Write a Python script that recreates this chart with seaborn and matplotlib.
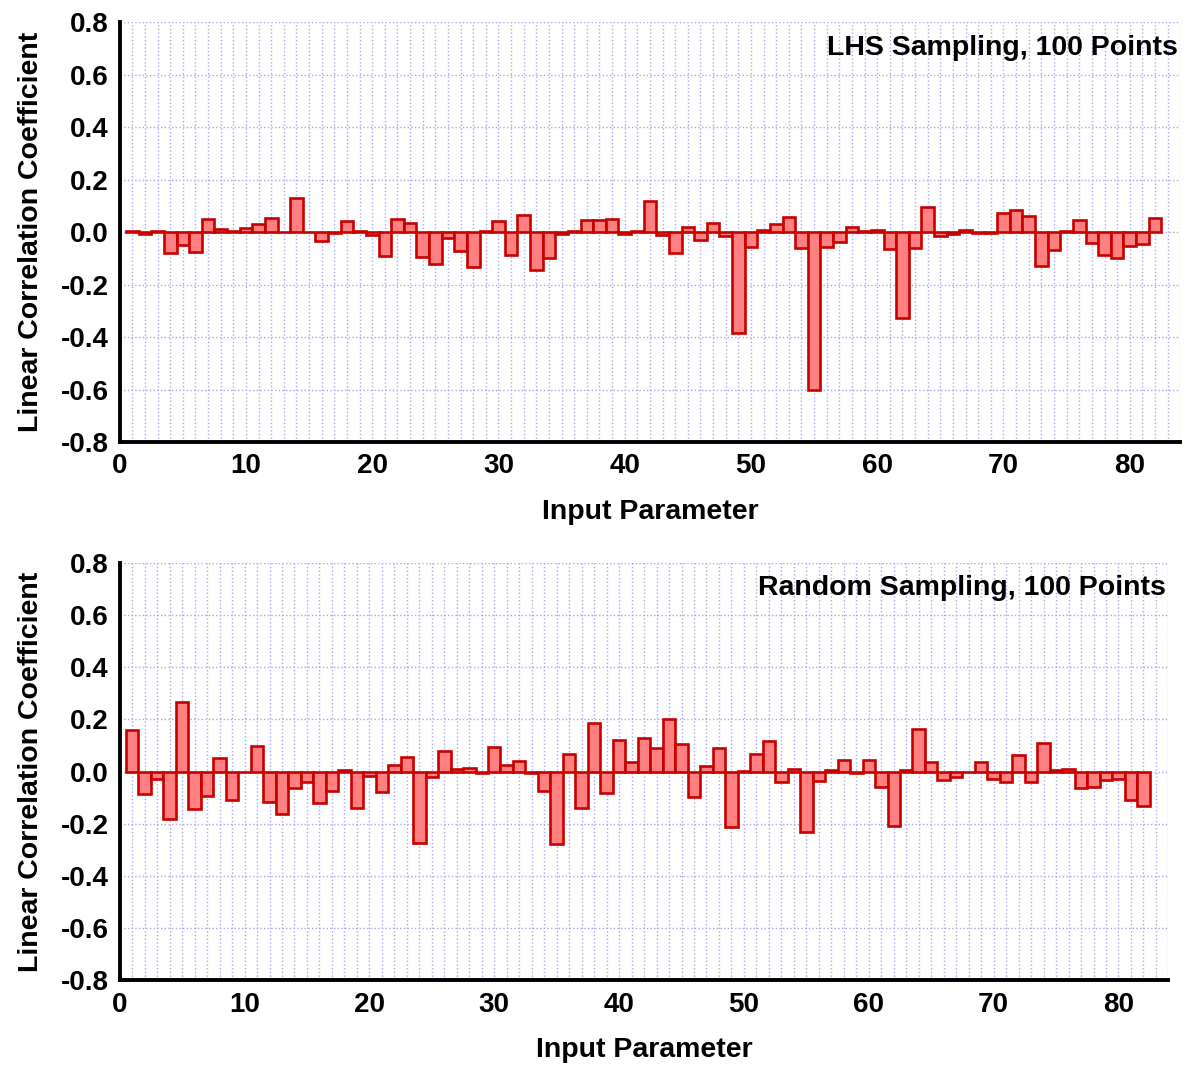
import matplotlib
matplotlib.use("Agg")
import matplotlib.pyplot as plt
from matplotlib.ticker import MultipleLocator
import numpy as np
import pandas as pd
import seaborn as sns

# input parameter index 1..82
params = list(range(1, 83))

# LHS sampling, 100 points
lhs_corr = [
    0.005, -0.008, 0.004, -0.08, -0.05, -0.075, 0.05, 0.013, 0.006, 0.017,
    0.032, 0.055, 0.003, 0.13, 0.003, -0.035, -0.003, 0.042, 0.005, -0.012,
    -0.09, 0.051, 0.035, -0.095, -0.12, -0.022, -0.072, -0.132, 0.005, 0.043,
    -0.088, 0.065, -0.143, -0.097, -0.008, 0.006, 0.045, 0.047, 0.052, -0.008,
    0.005, 0.12, -0.01, -0.078, 0.02, -0.03, 0.035, -0.015, -0.385, -0.056,
    0.008, 0.033, 0.059, -0.06, -0.6, -0.056, -0.037, 0.022, 0.005, 0.009,
    -0.062, -0.325, -0.058, 0.098, -0.013, -0.005, 0.008, -0.004, -0.003, 0.074,
    0.084, 0.062, -0.13, -0.066, 0.005, 0.046, -0.041, -0.088, -0.097, -0.054,
    -0.045, 0.053,
]

# random sampling, 100 points
rnd_corr = [
    0.158, -0.086, -0.028, -0.183, 0.265, -0.145, -0.092, 0.054, -0.109, -0.003,
    0.1, -0.118, -0.163, -0.062, -0.041, -0.12, -0.073, 0.006, -0.138, -0.017,
    -0.078, 0.024, 0.055, -0.272, -0.019, 0.08, 0.01, 0.013, -0.005, 0.094,
    0.026, 0.042, -0.005, -0.073, -0.278, 0.068, -0.141, 0.185, -0.081, 0.122,
    0.036, 0.128, 0.09, 0.2, 0.106, -0.099, 0.022, 0.09, -0.214, 0.002,
    0.067, 0.119, -0.038, 0.009, -0.23, -0.036, 0.006, 0.045, -0.006, 0.045,
    -0.058, -0.208, 0.006, 0.163, 0.035, -0.032, -0.019, -0.003, 0.035, -0.03,
    -0.038, 0.064, -0.038, 0.109, 0.006, 0.01, -0.062, -0.058, -0.032, -0.03,
    -0.109, -0.131,
]

panel_titles = ["LHS Sampling, 100 Points", "Random Sampling, 100 Points"]
y_ticks = [-0.8, -0.6, -0.4, -0.2, 0.0, 0.2, 0.4, 0.6, 0.8]

sns.set_style("white")
plt.rcParams["font.family"] = ["Liberation Sans", "DejaVu Sans"]
plt.rcParams["font.weight"] = "bold"
plt.rcParams["text.color"] = "black"
plt.rcParams["axes.labelcolor"] = "black"
plt.rcParams["xtick.color"] = "black"
plt.rcParams["ytick.color"] = "black"

fig = plt.figure(figsize=(11.85, 10.68), dpi=100)
ax_top = fig.add_axes([0.101, 0.586, 0.895, 0.393])
ax_bot = fig.add_axes([0.101, 0.082, 0.885, 0.391])

grid_kw = dict(color="#a8a8ec", linestyle=":", linewidth=1.0)

for ax, values, title in zip([ax_top, ax_bot], [lhs_corr, rnd_corr], panel_titles):
    df = pd.DataFrame({"param": params, "corr": values})
    ax.set_axisbelow(True)
    sns.barplot(
        data=df, x="param", y="corr", native_scale=True, width=1.0,
        color="#ff8080", saturation=1, edgecolor="#c80000", linewidth=1.9,
        ax=ax, errorbar=None,
    )
    ax.set_xlim(0, 84)
    ax.set_ylim(-0.8, 0.8)
    ax.xaxis.set_major_locator(MultipleLocator(10))
    ax.xaxis.set_minor_locator(MultipleLocator(1))
    ax.set_yticks(y_ticks)
    ax.set_yticklabels([f"{t:.1f}" for t in y_ticks])
    ax.grid(True, which="both", axis="x", **grid_kw)
    ax.grid(True, which="major", axis="y", **grid_kw)

    for side in ["top", "right"]:
        ax.spines[side].set_visible(False)
    for side in ["left", "bottom"]:
        ax.spines[side].set_color("black")
        ax.spines[side].set_linewidth(2.8)

    ax.tick_params(axis="both", which="major", direction="in", length=9,
                   width=2.2, labelsize=20, colors="black", pad=8)
    ax.tick_params(axis="x", which="minor", direction="in", length=4.5,
                   width=1.8, color="black")
    ax.tick_params(axis="y", which="minor", left=False)
    for lab in ax.get_xticklabels() + ax.get_yticklabels():
        lab.set_fontweight("bold")

    ax.set_xlabel("Input Parameter", fontsize=20.5, fontweight="bold",
                  labelpad=14, color="black")
    ax.set_ylabel("Linear Correlation Coefficient", fontsize=20.5,
                  fontweight="bold", labelpad=12, color="black")
    ax.text(0.998, 0.94, title, transform=ax.transAxes, ha="right", va="center",
            fontsize=20.5, fontweight="bold", color="black")

fig.savefig("out.png", dpi=100)
